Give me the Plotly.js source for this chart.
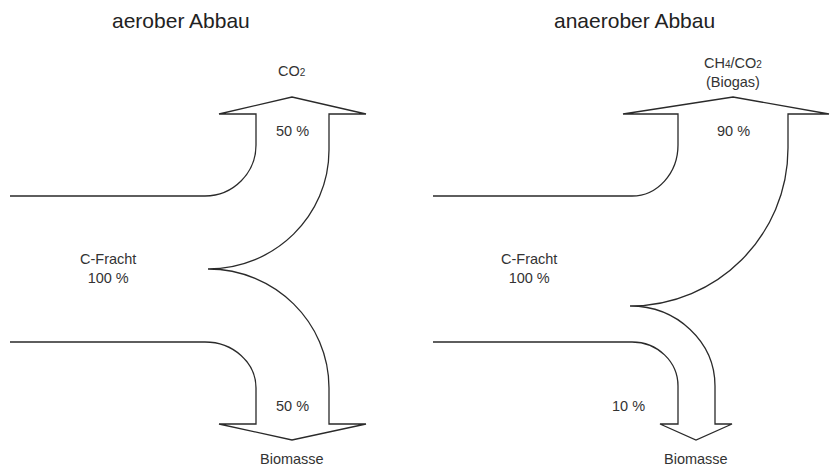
<!DOCTYPE html>
<html>
<head>
<meta charset="utf-8">
<script src="https://cdn.plot.ly/plotly-3.0.1.min.js"></script>
<style>html,body{margin:0;padding:0;background:#fff;}#chart{width:830px;height:466px;}</style>
</head>
<body>
<div id="chart"></div>
<script>
// ---- content ----
var processes = ["aerober Abbau", "anaerober Abbau"];
var inputLabel = ["C-Fracht", "100 %"];
var sm = function (s) { return '<span style="font-size:10px">' + s + '</span>'; };
var gasLabels = [["CO" + sm("2")], ["CH" + sm("4") + "/CO" + sm("2"), "(Biogas)"]];
var gasShare = [50, 90];        // % to gas
var biomassShare = [50, 10];    // % to biomass
var biomassLabel = "Biomasse";

// ---- geometry (pixel-like data coordinates, y downward) ----
var K = 0.5523;
function q(x0, y0, x1, y1, vertFirst) {
  if (vertFirst) return " C " + x0 + "," + (y0 + K * (y1 - y0)) + " " + (x1 - K * (x1 - x0)) + "," + y1 + " " + x1 + "," + y1;
  return " C " + (x0 + K * (x1 - x0)) + "," + y0 + " " + x1 + "," + (y1 - K * (y1 - y0)) + " " + x1 + "," + y1;
}
var diagrams = [
  {inX0: 10, inX1: 205, yTop: 196, yBot: 342, upL: 256, upR: 329, upBarbL: 219, upBarbR: 366, upTip: 292,
   lowL: 256, lowR: 329, lowBarbL: 219, lowBarbR: 366, lowTip: 292, cuspX: 208, cuspY: 269,
   upCurveY: 145, upRCurveY: 150, lowCurveY: 388, lowRCurveY: 388, titleX: 181, inLabelX: 108,
   gasPctX: 292, bioPctX: 292, gasY: 71},
  {inX0: 433, inX1: 632, yTop: 196, yBot: 342, upL: 678, upR: 788, upBarbL: 623, upBarbR: 829, upTip: 733,
   lowL: 678, lowR: 715, lowBarbL: 660, lowBarbR: 732, lowTip: 696, cuspX: 630, cuspY: 306,
   upCurveY: 145, upRCurveY: 148, lowCurveY: 386, lowRCurveY: 386, titleX: 634, inLabelX: 529,
   gasPctX: 733, bioPctX: 628, gasY: 72}
];
var barbY = 114, tipY = 97, lowBarbY = 424, lowTipY = 440;

var shapes = [], annotations = [];
var lineStyle = {color: "#2a2a2a", width: 1.3};
var fam = "Liberation Sans, Arial, sans-serif";
diagrams.forEach(function (d, i) {
  var p = "M " + d.inX0 + "," + d.yTop + " L " + d.inX1 + "," + d.yTop;
  p += q(d.inX1, d.yTop, d.upL, d.upCurveY, false);
  p += " L " + d.upL + "," + barbY + " L " + d.upBarbL + "," + barbY + " L " + d.upTip + "," + tipY +
       " L " + d.upBarbR + "," + barbY + " L " + d.upR + "," + barbY + " L " + d.upR + "," + d.upRCurveY;
  p += q(d.upR, d.upRCurveY, d.cuspX, d.cuspY, true);
  p += q(d.cuspX, d.cuspY, d.lowR, d.lowRCurveY, false);
  p += " L " + d.lowR + "," + lowBarbY + " L " + d.lowBarbR + "," + lowBarbY + " L " + d.lowTip + "," + lowTipY +
       " L " + d.lowBarbL + "," + lowBarbY + " L " + d.lowL + "," + lowBarbY + " L " + d.lowL + "," + d.lowCurveY;
  p += q(d.lowL, d.lowCurveY, d.inX1, d.yBot, true);
  p += " L " + d.inX0 + "," + d.yBot;
  shapes.push({type: "path", xref: "x", yref: "y", path: p, line: lineStyle, fillcolor: "rgba(0,0,0,0)"});

  var f = {family: fam, size: 14.5, color: "#333"};
  annotations.push({x: d.titleX, y: 20, text: processes[i], showarrow: false, font: {family: fam, size: 21, color: "#222"}});
  annotations.push({x: d.inLabelX, y: 268, text: inputLabel.join("<br>"), showarrow: false, font: f});
  annotations.push({x: d.upTip, y: d.gasY, text: gasLabels[i].join("<br>"), showarrow: false, font: f});
  annotations.push({x: d.gasPctX, y: 131, text: gasShare[i] + " %", showarrow: false, font: f});
  annotations.push({x: d.bioPctX, y: 406, text: biomassShare[i] + " %", showarrow: false, font: f});
  annotations.push({x: d.lowTip, y: 459, text: biomassLabel, showarrow: false, font: f});
});

var layout = {
  width: 830, height: 466,
  margin: {l: 0, r: 0, t: 0, b: 0},
  paper_bgcolor: "#fff", plot_bgcolor: "#fff",
  xaxis: {range: [0, 830], visible: false, fixedrange: true},
  yaxis: {range: [466, 0], visible: false, fixedrange: true},
  showlegend: false,
  shapes: shapes,
  annotations: annotations
};
Plotly.newPlot("chart", [{x: [], y: [], type: "scatter", mode: "lines"}], layout, {staticPlot: true, displayModeBar: false});
</script>
</body>
</html>
